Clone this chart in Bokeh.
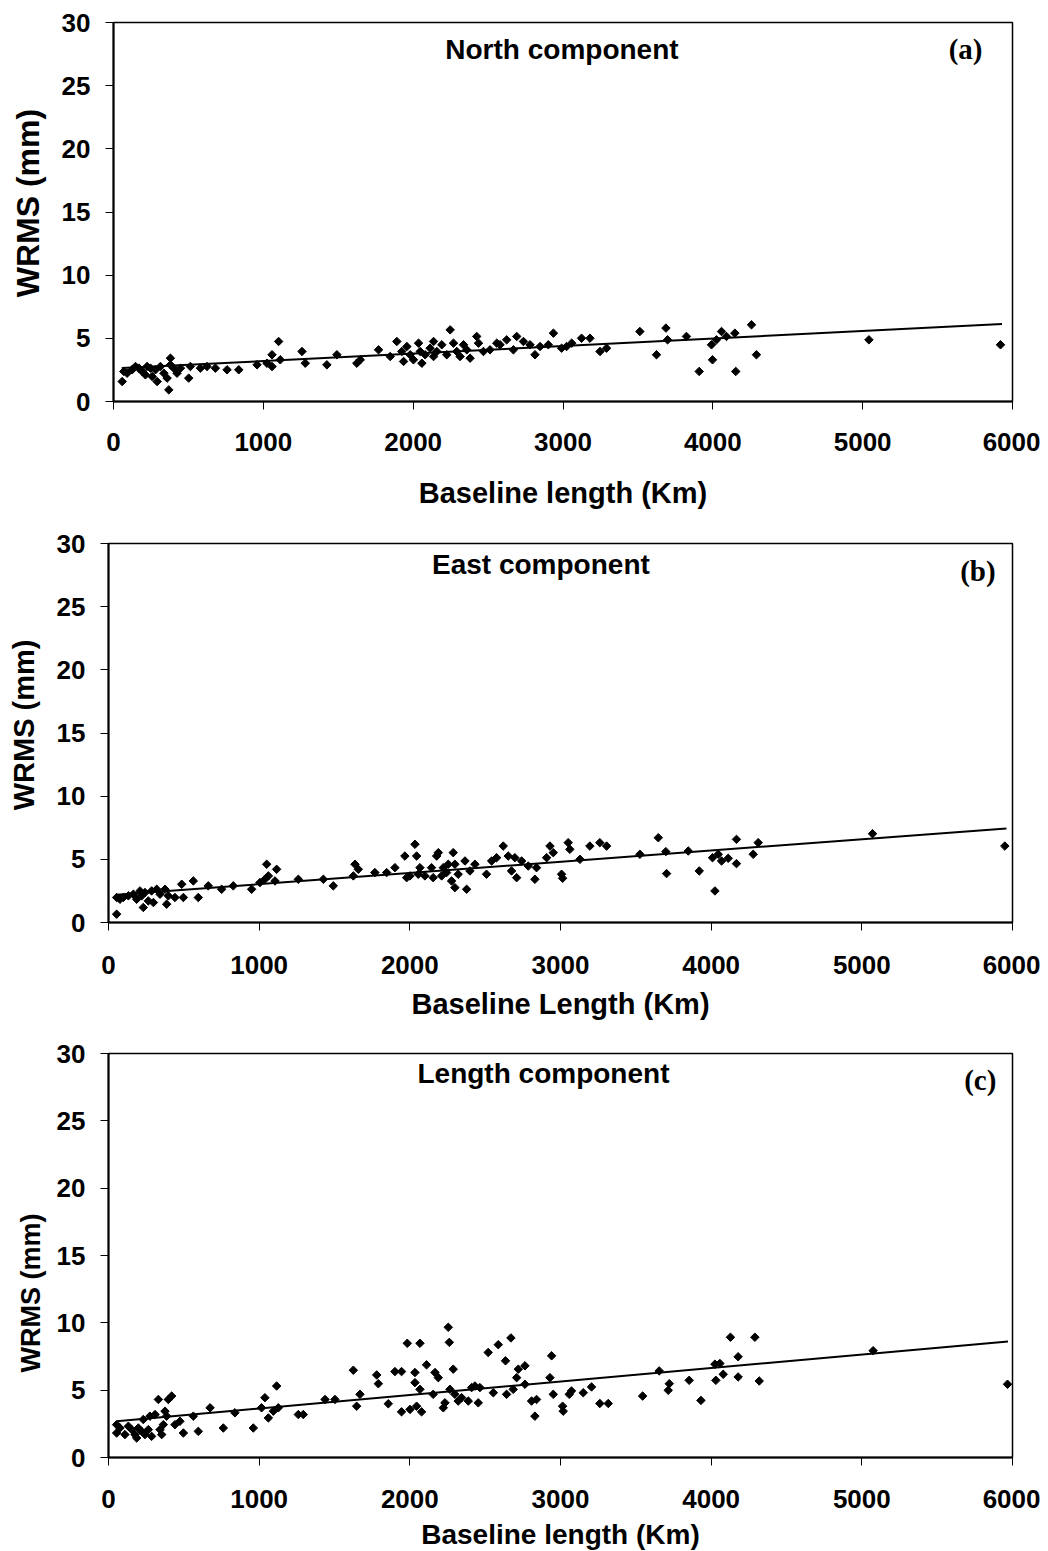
import numpy as np
from bokeh.plotting import figure
from bokeh.layouts import column
from bokeh.models import Range1d, FixedTicker, Label
from bokeh.embed import file_html
from bokeh.resources import INLINE

# ---------------- data ----------------
x_ticks = [0, 1000, 2000, 3000, 4000, 5000, 6000]
y_ticks = [0, 5, 10, 15, 20, 25, 30]

north_x = [58, 69, 91, 124, 147, 169, 191, 213, 224, 247, 258, 280, 291, 313, 336, 358, 369, 380, 380, 402,
           424, 447, 502, 513, 580, 624, 680, 758, 836, 958, 1024, 1058, 1058, 1102, 1113, 1258, 1280, 1424,
           1491, 1624, 1647, 1769, 1847, 1891, 1924, 1936, 1958, 1980, 2002, 2036, 2047, 2058, 2080, 2113,
           2136, 2136, 2158, 2191, 2224, 2247, 2269, 2291, 2313, 2336, 2358, 2380, 2424, 2436, 2469, 2513,
           2558, 2580, 2624, 2669, 2691, 2736, 2780, 2813, 2847, 2902, 2936, 2991, 3024, 3058, 3124, 3180,
           3247, 3291, 3513, 3624, 3687, 3698, 3824, 3909, 3991, 3998, 4024, 4058, 4091, 4147, 4153, 4258,
           4291, 5042, 5920]
north_y = [1.58, 2.38, 2.24, 2.51, 2.77, 2.64, 2.38, 2.11, 2.77, 2.64, 1.98, 2.51, 1.58, 2.77, 2.24, 1.85, 0.92,
           3.43, 2.90, 2.64, 2.24, 2.64, 1.85, 2.77, 2.64, 2.77, 2.64, 2.51, 2.51, 2.90, 3.03, 2.77, 3.70, 4.75,
           3.30, 3.96, 3.03, 2.90, 3.70, 3.03, 3.30, 4.09, 3.56, 4.75, 3.96, 3.17, 4.35, 3.70, 3.30, 4.62, 3.96,
           3.03, 3.70, 4.22, 4.75, 3.56, 3.96, 4.49, 3.70, 5.67, 4.62, 3.96, 3.56, 4.49, 4.09, 3.43, 5.15, 4.62,
           3.96, 4.09, 4.62, 4.49, 4.88, 4.09, 5.15, 4.75, 4.49, 3.70, 4.35, 4.49, 5.41, 4.22, 4.35, 4.62, 5.01,
           5.01, 3.96, 4.22, 5.54, 3.70, 5.81, 4.88, 5.15, 2.38, 4.49, 3.30, 4.88, 5.54, 5.15, 5.41, 2.38, 6.07,
           3.70, 4.88, 4.49]

east_x = [54, 54, 76, 98, 132, 165, 187, 209, 220, 231, 242, 264, 286, 298, 320, 342, 375, 386, 397, 441, 486,
          497, 563, 596, 662, 751, 828, 950, 1005, 1038, 1050, 1061, 1105, 1116, 1260, 1426, 1492, 1625, 1636,
          1658, 1768, 1846, 1901, 1967, 1979, 2001, 2034, 2045, 2056, 2067, 2100, 2144, 2155, 2178, 2189, 2211,
          2222, 2244, 2255, 2277, 2288, 2299, 2299, 2321, 2366, 2377, 2399, 2432, 2509, 2543, 2576, 2620, 2653,
          2675, 2697, 2709, 2742, 2786, 2830, 2841, 2908, 2930, 2952, 3007, 3014, 3051, 3062, 3129, 3195, 3261,
          3306, 3527, 3649, 3699, 3704, 3848, 3921, 4009, 4025, 4047, 4069, 4113, 4168, 4168, 4279, 4312, 5071,
          5949]
east_y = [0.66, 1.98, 1.84, 1.98, 2.11, 2.24, 1.84, 2.50, 2.11, 1.19, 2.37, 1.71, 2.50, 1.58, 2.63, 2.24, 2.63,
          1.45, 2.11, 1.98, 3.03, 1.98, 3.29, 1.98, 2.90, 2.63, 2.90, 2.63, 3.16, 3.42, 4.61, 3.69, 3.29, 4.21,
          3.42, 3.42, 2.90, 3.69, 4.61, 4.21, 3.95, 3.95, 4.34, 5.26, 3.55, 3.69, 6.19, 5.26, 3.82, 4.34, 3.69,
          4.34, 3.55, 5.26, 5.53, 3.69, 4.34, 3.95, 4.61, 3.29, 5.53, 4.61, 2.76, 3.82, 4.87, 2.63, 4.08, 4.61,
          3.82, 4.87, 5.13, 6.05, 5.26, 4.08, 5.13, 3.55, 4.87, 4.47, 3.42, 4.34, 5.13, 6.05, 5.53, 3.82, 3.50,
          6.32, 5.79, 5.00, 6.05, 6.32, 6.05, 5.40, 6.71, 5.61, 3.87, 5.66, 4.08, 5.13, 2.50, 5.40, 4.87, 5.08,
          6.58, 4.66, 5.40, 6.32, 7.03, 6.05]

length_x = [54, 54, 76, 109, 132, 154, 176, 187, 198, 220, 231, 242, 264, 275, 286, 309, 331, 342, 353, 364, 375,
            386, 397, 419, 441, 474, 497, 563, 596, 674, 762, 839, 961, 1016, 1038, 1061, 1094, 1116, 1127, 1260,
            1293, 1437, 1503, 1625, 1647, 1669, 1780, 1791, 1857, 1901, 1945, 1945, 1983, 2001, 2034, 2034, 2045,
            2067, 2067, 2078, 2111, 2155, 2167, 2189, 2222, 2233, 2255, 2262, 2266, 2288, 2299, 2321, 2344, 2388,
            2410, 2432, 2454, 2465, 2520, 2554, 2587, 2635, 2642, 2671, 2686, 2709, 2720, 2764, 2764, 2808, 2830,
            2841, 2930, 2941, 2952, 3014, 3018, 3058, 3073, 3151, 3206, 3261, 3317, 3545, 3655, 3715, 3722, 3854,
            3932, 4025, 4031, 4058, 4080, 4128, 4179, 4179, 4290, 4319, 5075, 5967]
length_y = [2.44, 1.82, 2.19, 1.70, 2.32, 2.07, 1.70, 1.45, 2.19, 1.94, 2.82, 1.70, 2.07, 3.07, 1.57, 3.19, 4.31,
            2.07, 1.70, 2.44, 3.44, 3.07, 4.31, 4.56, 2.44, 2.69, 1.82, 3.07, 1.94, 3.69, 2.19, 3.32, 2.19, 3.69,
            4.44, 2.94, 3.44, 5.31, 3.69, 3.19, 3.19, 4.31, 4.31, 6.48, 3.81, 4.69, 6.13, 5.48, 3.99, 6.38, 6.38,
            3.39, 8.48, 3.57, 6.31, 5.56, 3.81, 8.48, 5.06, 3.39, 6.88, 4.69, 6.31, 5.93, 3.69, 4.06, 9.67, 8.55,
            5.06, 6.56, 4.69, 4.19, 4.44, 4.19, 5.19, 5.31, 4.06, 5.19, 7.80, 4.81, 8.38, 7.18, 4.69, 8.88, 5.06,
            5.93, 6.56, 6.81, 5.44, 4.19, 3.07, 4.31, 5.93, 7.55, 4.69, 3.81, 3.44, 4.69, 4.94, 4.81, 5.24, 4.01,
            4.01, 4.56, 6.43, 4.99, 5.48, 5.73, 4.24, 6.93, 5.73, 6.98, 6.18, 8.93, 7.48, 5.98, 8.93, 5.68, 7.93,
            5.44]

# linear trend lines (intercept, slope per km, x start, x end)
north_trend = (2.61, 0.000593, 55, 5930)
east_trend = (2.14, 0.00089, 54, 5960)
length_trend = (2.64, 0.00100, 54, 5970)

titles = ["North component", "East component", "Length component"]
tags = ["(a)", "(b)", "(c)"]
x_labels = ["Baseline length (Km)", "Baseline Length (Km)", "Baseline length (Km)"]
y_label = "WRMS (mm)"

SANS = "Liberation Sans"
SERIF = "Liberation Serif"
NB = "\u00a0"


def panel(xs, ys, trend, title, tag, xlabel, ylabel, frame_w, frame_h, mb_top, mb_bottom,
          title_x, title_y, tag_x, tag_y, ylab_size, xlab_size, tick_standoff, xlab_standoff, ylab_standoff):
    p = figure(frame_width=frame_w, frame_height=frame_h,
               min_border_left=108, min_border_right=28,
               min_border_top=mb_top, min_border_bottom=mb_bottom,
               x_range=Range1d(0, 6000), y_range=Range1d(0, 30),
               output_backend="svg", toolbar_location=None,
               background_fill_color="white", border_fill_color="white")
    p.xgrid.visible = False
    p.ygrid.visible = False
    p.outline_line_color = "black"
    p.outline_line_width = 1.5
    p.outline_line_alpha = 1.0

    for ax, ticks in ((p.xaxis, x_ticks), (p.yaxis, y_ticks)):
        ax.ticker = FixedTicker(ticks=ticks)
        ax.axis_line_color = "black"
        ax.axis_line_width = 2
        ax.major_tick_line_color = "black"
        ax.major_tick_line_width = 1
        ax.major_tick_out = 8
        ax.major_tick_in = 0
        ax.minor_tick_out = 0
        ax.minor_tick_in = 0
        ax.major_label_text_font = SANS
        ax.major_label_text_font_style = "bold"
        ax.major_label_text_font_size = "26px"
        ax.major_label_text_color = "black"
        ax.axis_label_text_font = SANS
        ax.axis_label_text_font_style = "bold"
        ax.axis_label_text_color = "black"

    p.xaxis.major_label_standoff = tick_standoff
    p.yaxis.major_label_standoff = 15
    p.xaxis.axis_label = xlabel
    p.xaxis.axis_label_text_font_size = xlab_size
    p.xaxis.axis_label_standoff = xlab_standoff
    p.yaxis.axis_label = ylabel
    p.yaxis.axis_label_text_font_size = ylab_size
    p.yaxis.axis_label_standoff = ylab_standoff

    b0, b1, xa, xb = trend
    p.line([xa, xb], [b0 + b1 * xa, b0 + b1 * xb], line_color="black", line_width=2)
    p.scatter(xs, ys, marker="square", size=6, angle=np.pi / 4,
              fill_color="black", line_color="black", line_width=1)

    p.add_layout(Label(x=title_x, y=title_y, text=title, text_align="center", text_baseline="middle",
                       text_font=SANS, text_font_style="bold", text_font_size="28px", text_color="black"))
    p.add_layout(Label(x=tag_x, y=tag_y, text=tag, text_align="center", text_baseline="middle",
                       text_font=SERIF, text_font_style="bold", text_font_size="29px", text_color="black"))
    return p


# y labels padded with no-break spaces so that they sit where the reference places them
pa = panel(north_x, north_y, north_trend, titles[0], tags[0], x_labels[0], NB * 2 + y_label,
           899, 379, 22, 129, 2993, 27.9, 5687, 27.9, "32px", "29px", 23, 23, 13)
pa.margin = (0, 0, 0, 5)

pb = panel(east_x, east_y, east_trend, titles[1], tags[1], x_labels[1], NB * 2 + y_label,
           904, 379, 13, 106, 2870, 28.3, 5770, 27.8, "29px", "29px", 25, 11, 14)

pc = panel(length_x, length_y, length_trend, titles[2], tags[2], x_labels[2], y_label + NB * 10,
           904, 404, 25, 88, 2887, 28.5, 5786, 28.0, "27px", "28px", 24, 8, 8)

layout = column(pa, pb, pc, spacing=0)
open("out.html", "w").write(file_html(layout, INLINE))
